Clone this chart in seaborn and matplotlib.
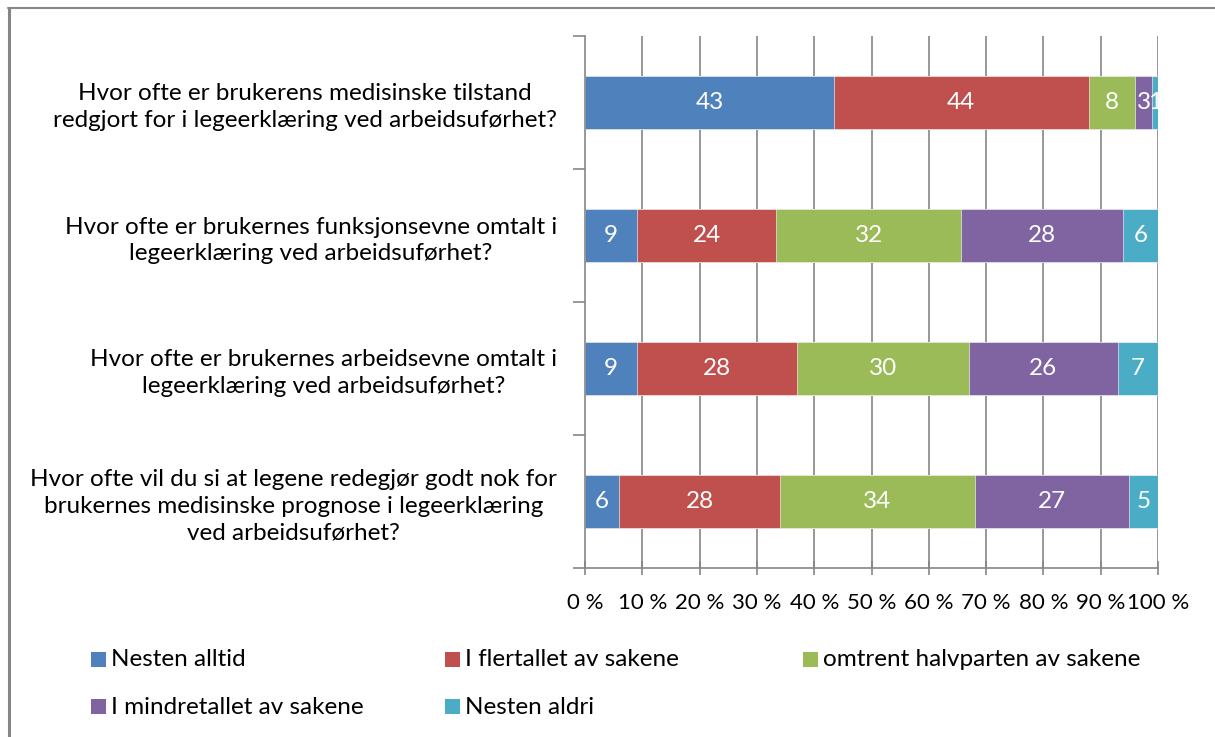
import numpy as np
import pandas as pd
import matplotlib
matplotlib.use("Agg")
import matplotlib.pyplot as plt
from matplotlib.patches import Rectangle
from matplotlib.lines import Line2D
import seaborn as sns

# Survey questions (one bar each, top to bottom)
questions = [
    "Hvor ofte er brukerens medisinske tilstand\nredgjort for i legeerklæring ved arbeidsuførhet?",
    "Hvor ofte er brukernes funksjonsevne omtalt i\nlegeerklæring ved arbeidsuførhet?",
    "Hvor ofte er brukernes arbeidsevne omtalt i\nlegeerklæring ved arbeidsuførhet?",
    "Hvor ofte vil du si at legene redegjør godt nok for\nbrukernes medisinske prognose i legeerklæring\nved arbeidsuførhet?",
]

# Answer categories (stack order, left to right)
answers = [
    "Nesten alltid",
    "I flertallet av sakene",
    "omtrent halvparten av sakene",
    "I mindretallet av sakene",
    "Nesten aldri",
]

# Percent answering each category, per question
nesten_alltid = [43, 9, 9, 6]
i_flertallet = [44, 24, 28, 28]
omtrent_halvparten = [8, 32, 30, 34]
i_mindretallet = [3, 28, 26, 27]
nesten_aldri = [1, 6, 7, 5]

x_ticks = [0, 10, 20, 30, 40, 50, 60, 70, 80, 90, 100]
x_tick_labels = [f"{t} %" for t in x_ticks]

colors = ["#4F81BD", "#C0504D", "#9BBB59", "#8064A2", "#4BACC6"]

values = np.array([nesten_alltid, i_flertallet, omtrent_halvparten,
                   i_mindretallet, nesten_aldri], dtype=float)
# scale each question to a 100 % bar
shares = values / values.sum(axis=0) * 100
cumulative = np.cumsum(shares, axis=0)

sns.set_theme(style="white")
plt.rcParams["font.family"] = ["Lato", "DejaVu Sans"]

label_size = 17.5

fig = plt.figure(figsize=(12.15, 7.37), dpi=100)
ax = fig.add_axes([585 / 1215, 1 - 568 / 737, 573 / 1215, 532 / 737])

grid_color = "#868686"
ax.set_axisbelow(True)
for t in x_ticks[1:]:
    ax.axvline(t, color=grid_color, lw=1.2, zorder=0)

# stacked bars: draw cumulative totals from the widest layer down
for k in range(len(answers) - 1, -1, -1):
    df = pd.DataFrame({"question": questions, "cum": cumulative[k]})
    sns.barplot(data=df, x="cum", y="question", orient="h", color=colors[k],
                saturation=1, width=0.4, ax=ax, zorder=2,
                edgecolor="white", linewidth=0.4)

# value labels centred in each segment
for k in range(len(answers)):
    for i in range(len(questions)):
        mid = cumulative[k, i] - shares[k, i] / 2
        ax.text(mid, i, f"{int(values[k, i])}", ha="center", va="center",
                color="white", fontsize=label_size, zorder=3)

ax.set_xlim(0, 100)
ax.set_ylim(3.5, -0.5)
ax.set_xlabel("")
ax.set_ylabel("")

ax.set_xticks(x_ticks)
ax.set_xticklabels(x_tick_labels, fontsize=16)
ax.tick_params(axis="x", direction="inout", length=10, width=1.2,
               color=grid_color, pad=13, labelcolor="black", bottom=True)

ax.set_yticks(range(len(questions)))
ax.set_yticklabels(questions, fontsize=label_size, multialignment="center",
                   linespacing=1.35)
ax.tick_params(axis="y", which="major", length=0, pad=20, labelcolor="black")
ax.set_yticks(np.arange(-0.5, len(questions), 1), minor=True)
ax.tick_params(axis="y", which="minor", direction="out", length=9,
               width=1.2, color=grid_color, left=True)

for side in ["top", "right"]:
    ax.spines[side].set_visible(False)
for side in ["left", "bottom"]:
    ax.spines[side].set_color(grid_color)
    ax.spines[side].set_linewidth(1.2)

# legend laid out in a 3-column grid below the plot
legend_pos = [(91, 660), (445, 660), (803, 660), (91, 707), (445, 707)]
for (px, py), label, c in zip(legend_pos, answers, colors):
    fig.add_artist(Rectangle((px / 1215, 1 - (py + 7) / 737), 15 / 1215, 15 / 737,
                             transform=fig.transFigure, facecolor=c,
                             edgecolor="none"))
    fig.text((px + 20) / 1215, 1 - py / 737, label, fontsize=label_size,
             ha="left", va="center", color="black")

# outer chart frame
fig.add_artist(Line2D([9 / 1215, 9 / 1215], [0, 1 - 8 / 737],
                      transform=fig.transFigure, color=grid_color, lw=2.2))
fig.add_artist(Line2D([8 / 1215, 1], [1 - 8 / 737, 1 - 8 / 737],
                      transform=fig.transFigure, color=grid_color, lw=1.5))

fig.savefig("out.png", dpi=100)
